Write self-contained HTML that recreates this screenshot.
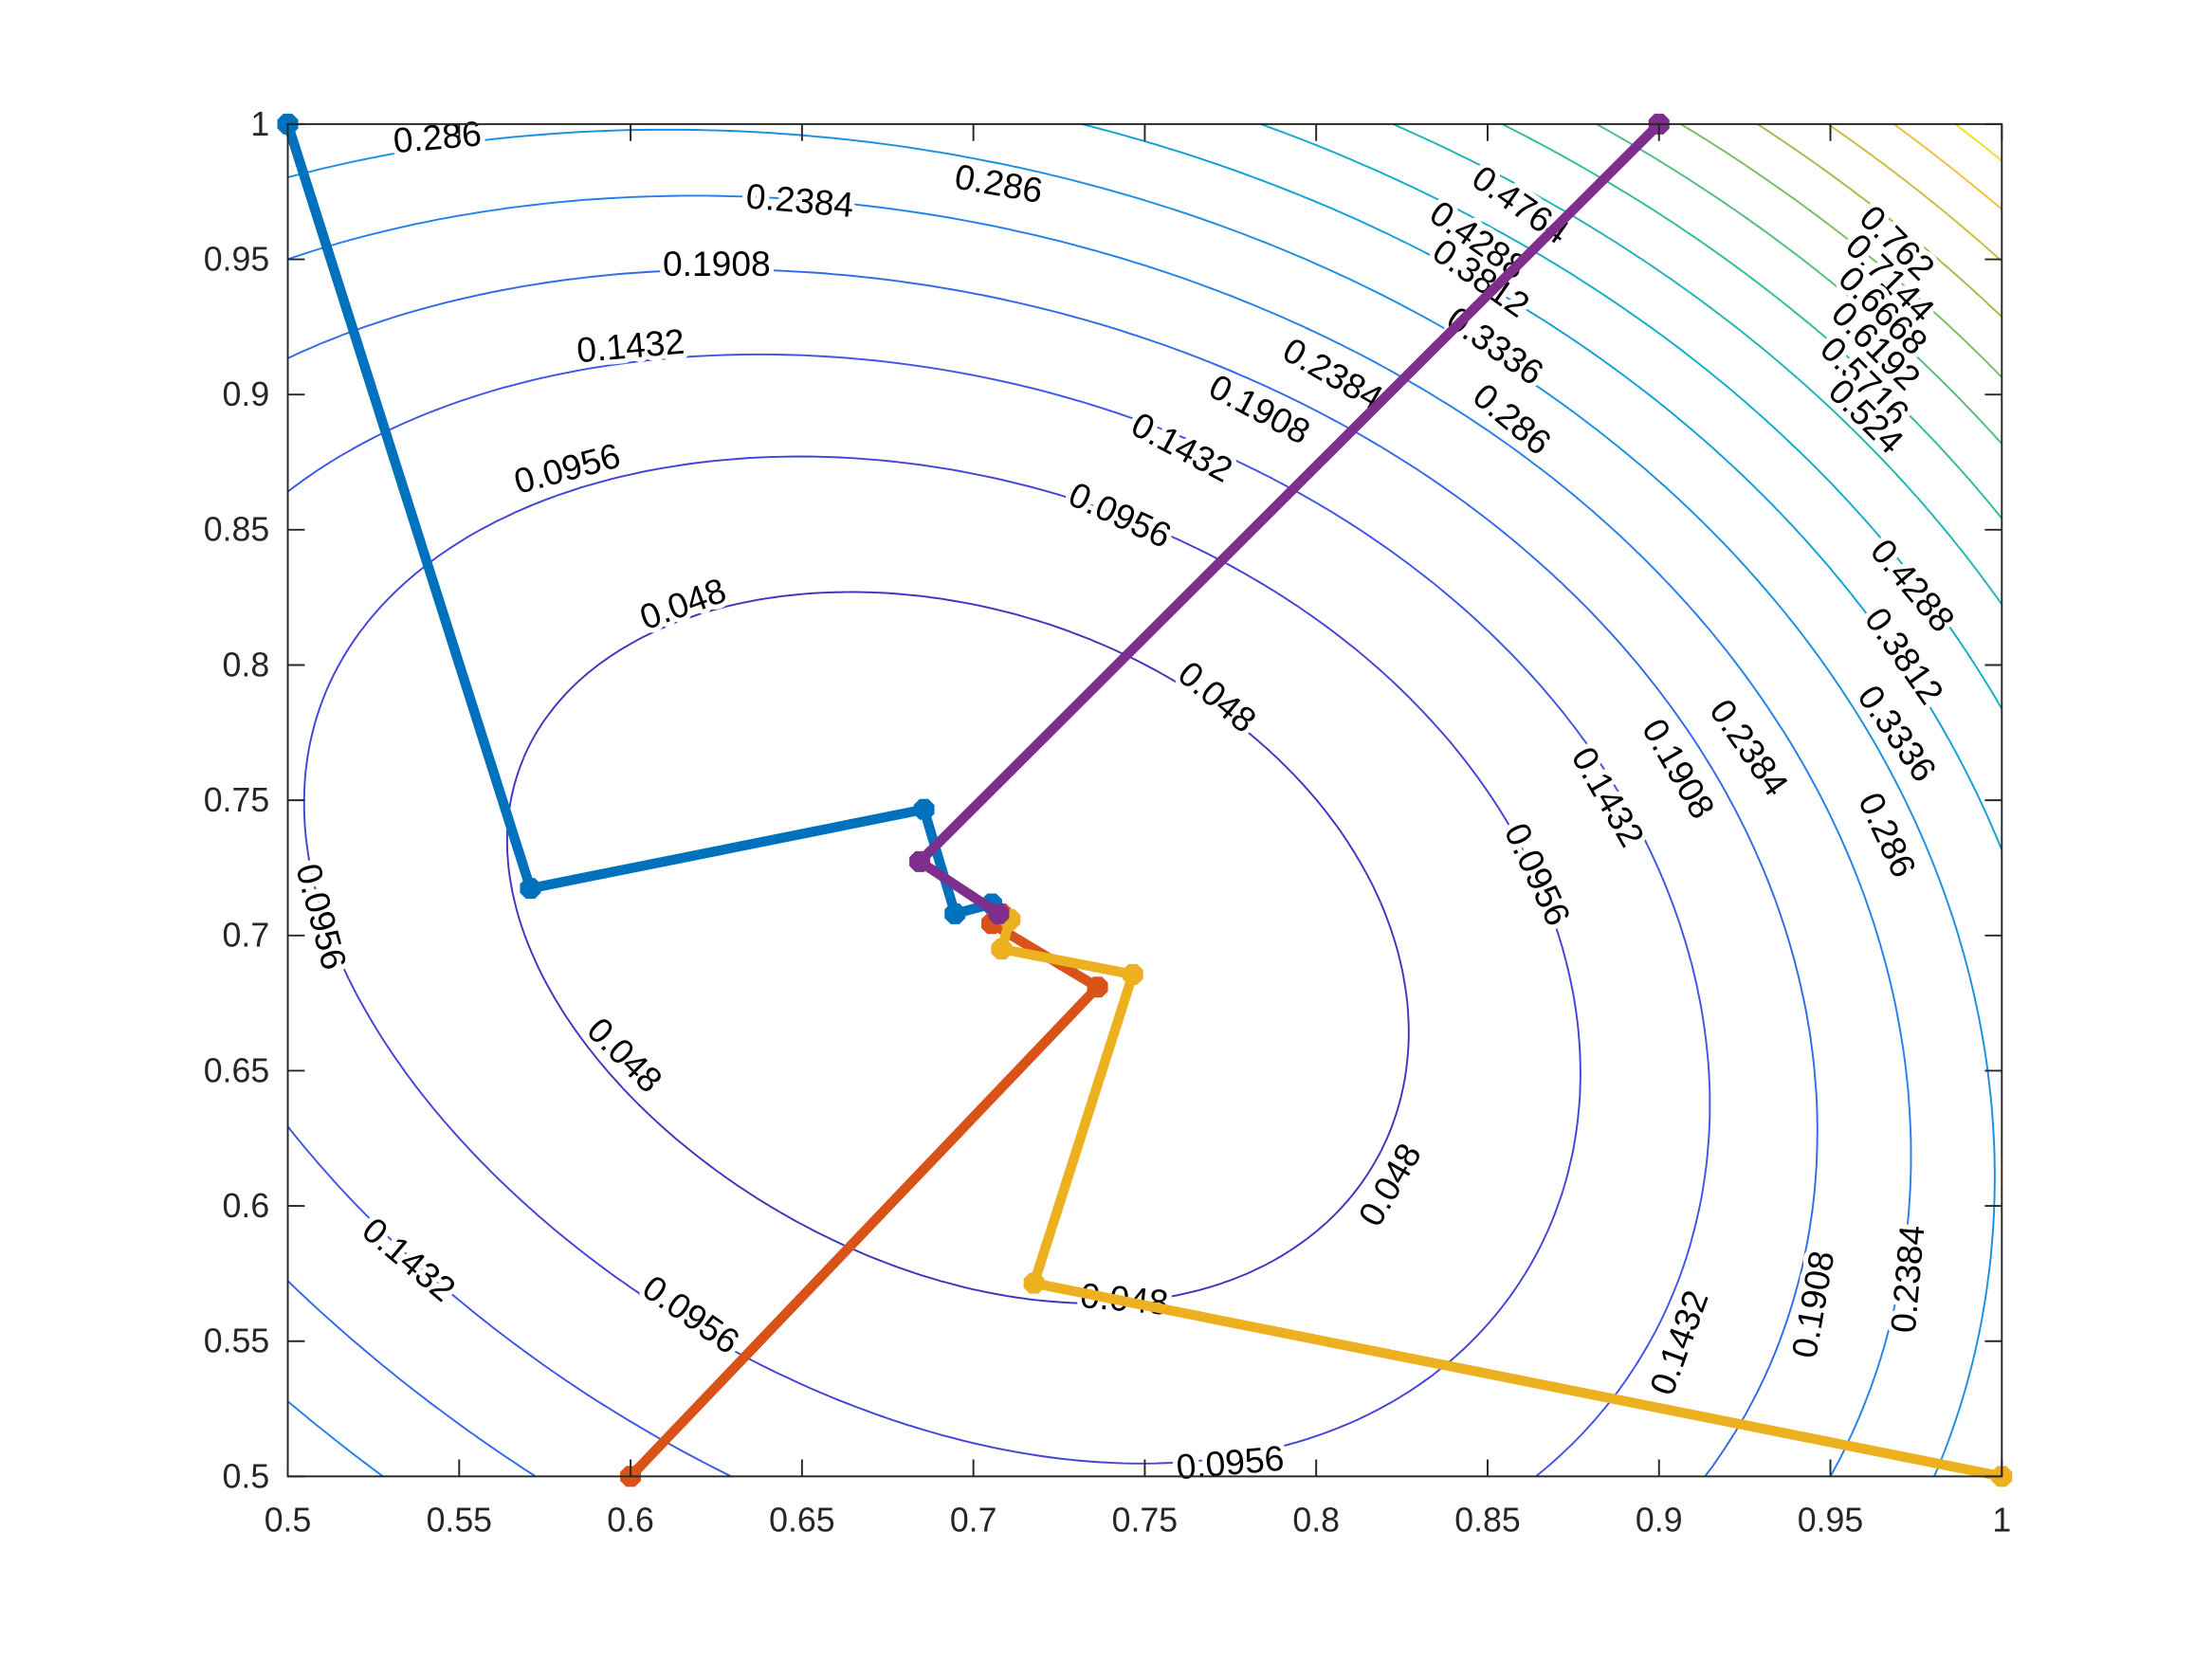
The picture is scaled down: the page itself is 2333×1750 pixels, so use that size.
<!DOCTYPE html>
<html><head><meta charset="utf-8"><style>
html,body{margin:0;padding:0;background:#fff;}
svg{display:block;}
text{font-family:"Liberation Sans",sans-serif;}
</style></head><body>
<svg id="s" width="2333" height="1750" viewBox="0 0 1568 1176.5" preserveAspectRatio="none" xmlns="http://www.w3.org/2000/svg">
<rect width="1568" height="1177" fill="#fff"/>
<g id="cont"></g>
<g id="lab" font-size="25" fill="#000" text-anchor="middle" dominant-baseline="central" stroke="#fff" stroke-width="7" paint-order="stroke" stroke-linejoin="round"></g>
<g id="paths"></g>
<rect x="204" y="88" width="1215" height="959" fill="none" stroke="#262626" stroke-width="1.3"/>
<g id="ticks" stroke="#262626" stroke-width="1.3"></g>
<g id="tl" font-size="24" fill="#262626"></g>
</svg>
<script>
const NS="http://www.w3.org/2000/svg";
const X0=204,X1=1419,Y0=1047,Y1=88;
const px=x=>X0+(x-0.5)/0.5*(X1-X0), py=y=>Y0-(y-0.5)/0.5*(Y0-Y1);
function f(x,y){const dx=x-0.7,dy=y-0.7,u=(dx+dy)/Math.SQRT2,v=(dx-dy)/Math.SQRT2;
return 3.82*u*u+1.47*u*u*u+2.2*v*v+3*u*v*v;}
const stops=[[0,[62,38,168]],[0.15,[70,75,230]],[0.3,[35,130,235]],[0.45,[10,170,210]],[0.6,[50,190,150]],[0.75,[150,190,70]],[0.87,[240,185,60]],[1,[249,251,14]]];
function col(t){for(let i=1;i<stops.length;i++){if(t<=stops[i][0]){const a=stops[i-1],b=stops[i],k=(t-a[0])/(b[0]-a[0]);return 'rgb('+a[1].map((c,j)=>Math.round(c+(b[1][j]-c)*k)).join(',')+')';}}return 'rgb(249,251,14)';}
const N=160,G=[];
for(let i=0;i<=N;i++){G[i]=[];for(let j=0;j<=N;j++)G[i][j]=f(0.5+0.5*i/N,0.5+0.5*j/N);}
const cont=document.getElementById('cont');
const Lmin=0.0004,Lmax=0.81;
for(let k=1;k<=18;k++){const L=0.0004+0.0476*k;let d='';
for(let i=0;i<N;i++)for(let j=0;j<N;j++){
const c=[[i,j],[i+1,j],[i+1,j+1],[i,j+1]];const pts=[];
for(let e=0;e<4;e++){const a=c[e],b=c[(e+1)%4];const va=G[a[0]][a[1]],vb=G[b[0]][b[1]];
if((va<L)!==(vb<L)){const t=(L-va)/(vb-va);const xi=a[0]+(b[0]-a[0])*t,yj=a[1]+(b[1]-a[1])*t;pts.push([px(0.5+0.5*xi/N),py(0.5+0.5*yj/N)]);}}
for(let p=0;p+1<pts.length;p+=2)d+='M'+pts[p][0].toFixed(1)+' '+pts[p][1].toFixed(1)+'L'+pts[p+1][0].toFixed(1)+' '+pts[p+1][1].toFixed(1);}
const pe=document.createElementNS(NS,'path');pe.setAttribute('d',d);pe.setAttribute('stroke',col((L-Lmin)/(Lmax-Lmin)));pe.setAttribute('stroke-width','1.3');pe.setAttribute('fill','none');cont.appendChild(pe);}
const labs=[[310,97,"0.286",-5],[567,142,"0.2384",5],[508,187,"0.1908",0],[447,245,"0.1432",-5],[402,332,"0.0956",-15],[484,428,"0.048",-20],[708,130,"0.286",10],[1078,145,"0.4764",35],[1048,170,"0.4288",35],[1050,197,"0.3812",35],[1060,245,"0.3336",35],[945,265,"0.2384",30],[893,290,"0.1908",28],[838,317,"0.1432",28],[794,365,"0.0956",25],[863,494,"0.048",40],[1072,297,"0.286",40],[1345,172,"0.762",45],[1340,197,"0.7144",45],[1335,220,"0.6668",45],[1330,245,"0.6192",45],[1322,270,"0.5716",45],[1323,295,"0.524",45],[1356,415,"0.4288",50],[1350,465,"0.3812",55],[1345,520,"0.3336",55],[1338,592,"0.286",65],[1240,530,"0.2384",55],[1190,545,"0.1908",60],[1140,565,"0.1432",60],[1090,620,"0.0956",65],[228,650,"0.0956",75],[443,748,"0.048",45],[985,840,"0.048",-60],[797,921,"0.048",5],[290,893,"0.1432",40],[490,932,"0.0956",35],[872,1037,"0.0956",-5],[1190,952,"0.1432",-70],[1285,925,"0.1908",-80],[1352,907,"0.2384",-85]];
const lab=document.getElementById('lab');
labs.forEach(l=>{const t=document.createElementNS(NS,'text');t.setAttribute('x',l[0]);t.setAttribute('y',l[1]);t.setAttribute('transform','rotate('+l[3]+' '+l[0]+' '+l[1]+')');t.textContent=l[2];lab.appendChild(t);});
const series=[["#0072BD",[[204,88],[376,630],[655,574],[677,648],[703,641],[708,650]]],
["#D95319",[[447,1047],[778,700],[703,655],[710,648]]],
["#EDB120",[[1419,1047],[733,910],[803,691],[710,673],[716,652]]],
["#7E2F8E",[[1176,88],[652,611],[708,648]]]];
const pg=document.getElementById('paths');
function oct(x,y,r){let s='';for(let i=0;i<8;i++){const a=Math.PI/8+i*Math.PI/4;s+=(x+r*Math.cos(a)).toFixed(1)+','+(y+r*Math.sin(a)).toFixed(1)+' ';}return s;}
series.forEach(s=>{const pl=document.createElementNS(NS,'polyline');pl.setAttribute('points',s[1].map(p=>p.join(',')).join(' '));pl.setAttribute('stroke',s[0]);pl.setAttribute('stroke-width','7');pl.setAttribute('fill','none');pl.setAttribute('stroke-linejoin','round');pg.appendChild(pl);
s[1].forEach(p=>{const c=document.createElementNS(NS,'polygon');c.setAttribute('points',oct(p[0],p[1],8));c.setAttribute('fill',s[0]);pg.appendChild(c);});});
const tk=document.getElementById('ticks'),tl=document.getElementById('tl');let td='';
for(let i=0;i<=10;i++){const v=0.5+0.05*i,x=px(v),y=py(v);
td+=`M${x} ${Y0}V${Y0-12}M${x} ${Y1}V${Y1+12}M${X0} ${y}H${X0+12}M${X1} ${y}H${X1-12}`;
const s=(Math.round(v*100)/100).toString();
let t=document.createElementNS(NS,'text');t.setAttribute('x',x);t.setAttribute('y',1086);t.setAttribute('text-anchor','middle');t.textContent=s;tl.appendChild(t);
t=document.createElementNS(NS,'text');t.setAttribute('x',191);t.setAttribute('y',y+8);t.setAttribute('text-anchor','end');t.textContent=s;tl.appendChild(t);}
const tp=document.createElementNS(NS,'path');tp.setAttribute('d',td);tp.setAttribute('fill','none');tk.appendChild(tp);
</script>
</body></html>
